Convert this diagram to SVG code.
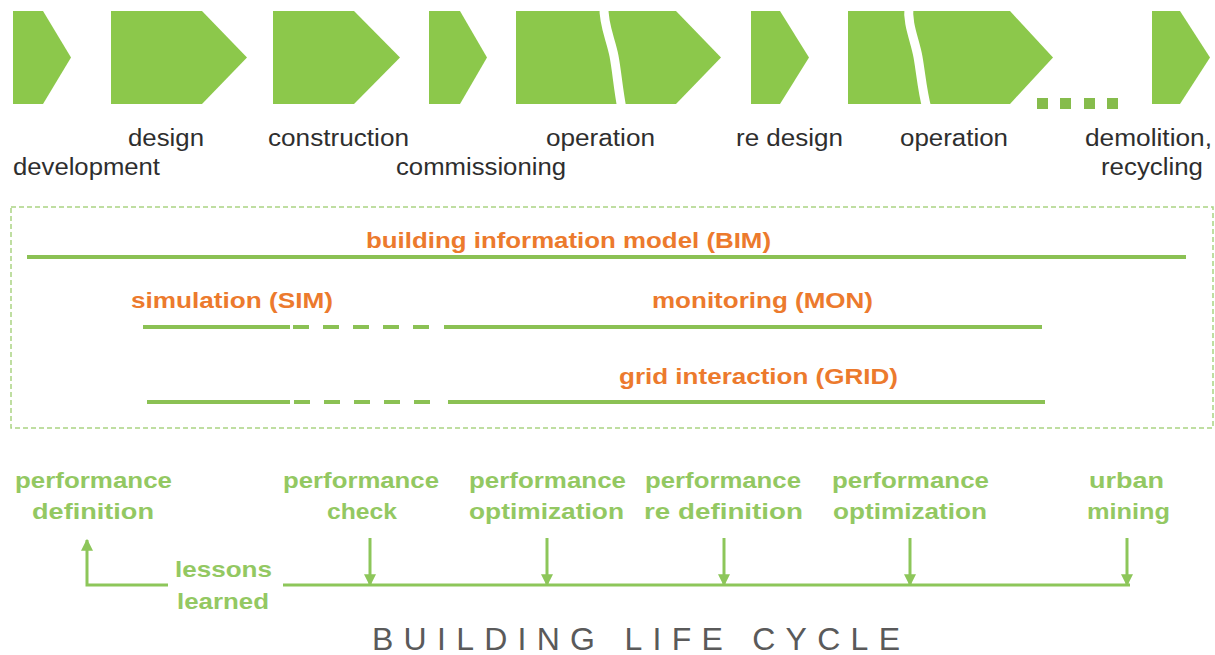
<svg xmlns="http://www.w3.org/2000/svg" width="1215" height="655" viewBox="0 0 1215 655">
  <style>
    .chev { fill: #8CC84B; }
    .crack { fill: none; stroke: #ffffff; stroke-width: 9; stroke-linecap: butt; }
    .dot { fill: #86BC4C; }
    .phase { font-family: "Liberation Sans", Arial, sans-serif; font-size: 23px; fill: #2e2e2e; }
    .tool { font-family: "Liberation Sans", Arial, sans-serif; font-size: 22px; font-weight: bold; fill: #EC7A2D; }
    .track { fill: none; stroke: #8BC154; stroke-width: 4; }
    .track-dash { fill: none; stroke: #8BC154; stroke-width: 4; stroke-dasharray: 16 14; }
    .frame { fill: none; stroke: #AAD483; stroke-width: 1.5; stroke-dasharray: 5 3; }
    .task { font-family: "Liberation Sans", Arial, sans-serif; font-size: 22px; font-weight: bold; fill: #93C862; }
    .flow { fill: none; stroke: #8DC65A; stroke-width: 3; }
    .title { font-family: "Liberation Sans", Arial, sans-serif; font-size: 32px; fill: #5a5a5a; }
  </style>
  <defs>
    <marker id="tip" viewBox="0 0 10 10" refX="9" refY="5" markerWidth="4" markerHeight="4" orient="auto" markerUnits="strokeWidth">
      <path d="M0,0 L10,5 L0,10 Z" fill="#8DC65A"/>
    </marker>
  </defs>

  <rect width="1215" height="655" fill="#ffffff"/>

  <!-- phase chevrons -->
  <g id="phase-development">
    <polygon class="chev" points="13,11 43,11 71,57.5 43,104 13,104"/>
    <text class="phase" x="13" y="175" textLength="147" lengthAdjust="spacingAndGlyphs">development</text>
  </g>
  <g id="phase-design">
    <polygon class="chev" points="111,11 202,11 247,57.5 202,104 111,104"/>
    <text class="phase" x="128" y="146" textLength="76" lengthAdjust="spacingAndGlyphs">design</text>
  </g>
  <g id="phase-construction">
    <polygon class="chev" points="273,11 354,11 400,57.5 354,104 273,104"/>
    <text class="phase" x="268" y="146" textLength="141" lengthAdjust="spacingAndGlyphs">construction</text>
  </g>
  <g id="phase-commissioning">
    <polygon class="chev" points="429,11 460,11 487,57.5 460,104 429,104"/>
    <text class="phase" x="396" y="175" textLength="170" lengthAdjust="spacingAndGlyphs">commissioning</text>
  </g>
  <g id="phase-operation-1">
    <polygon class="chev" points="516,11 676,11 721,57.5 676,104 516,104"/>
    <path class="crack" d="M604,6 C603,24 611,40 614,56 C617,72 618,88 622,109"/>
    <text class="phase" x="546" y="146" textLength="109" lengthAdjust="spacingAndGlyphs">operation</text>
  </g>
  <g id="phase-redesign">
    <polygon class="chev" points="751,11 780,11 809,57.5 780,104 751,104"/>
    <text class="phase" x="736" y="146" textLength="107" lengthAdjust="spacingAndGlyphs">re design</text>
  </g>
  <g id="phase-operation-2">
    <polygon class="chev" points="848,11 1010,11 1053,57.5 1010,104 848,104"/>
    <path class="crack" d="M909,6 C907,24 915,40 918,57 C921,74 922,90 927,109"/>
    <text class="phase" x="900" y="146" textLength="108" lengthAdjust="spacingAndGlyphs">operation</text>
  </g>
  <g id="phase-gap">
    <rect class="dot" x="1037" y="98" width="11" height="11"/>
    <rect class="dot" x="1060" y="98" width="11" height="11"/>
    <rect class="dot" x="1084" y="98" width="11" height="11"/>
    <rect class="dot" x="1107" y="98" width="11" height="11"/>
  </g>
  <g id="phase-demolition">
    <polygon class="chev" points="1152,11 1180,11 1210,57.5 1180,104 1152,104"/>
    <text class="phase" x="1085" y="146" textLength="127" lengthAdjust="spacingAndGlyphs">demolition,</text>
    <text class="phase" x="1101" y="175" textLength="102" lengthAdjust="spacingAndGlyphs">recycling</text>
  </g>

  <!-- tools spanning the life cycle -->
  <g id="tools">
    <rect class="frame" x="11" y="207" width="1202" height="221"/>
    <g id="tool-bim">
      <text class="tool" x="366" y="248" textLength="405" lengthAdjust="spacingAndGlyphs">building information model (BIM)</text>
      <line class="track" x1="27" y1="257" x2="1186" y2="257"/>
    </g>
    <g id="tool-sim-mon">
      <text class="tool" x="131" y="308" textLength="202" lengthAdjust="spacingAndGlyphs">simulation (SIM)</text>
      <text class="tool" x="652" y="308" textLength="221" lengthAdjust="spacingAndGlyphs">monitoring (MON)</text>
      <line class="track" x1="143" y1="327" x2="290" y2="327"/>
      <line class="track-dash" x1="293" y1="327" x2="429" y2="327"/>
      <line class="track" x1="444" y1="327" x2="1042" y2="327"/>
    </g>
    <g id="tool-grid">
      <text class="tool" x="619" y="384" textLength="279" lengthAdjust="spacingAndGlyphs">grid interaction (GRID)</text>
      <line class="track" x1="147" y1="402" x2="290" y2="402"/>
      <line class="track-dash" x1="294" y1="402" x2="432" y2="402"/>
      <line class="track" x1="448" y1="402" x2="1045" y2="402"/>
    </g>
  </g>

  <!-- performance tasks -->
  <g id="task-definition">
    <text class="task" x="15" y="488" textLength="157" lengthAdjust="spacingAndGlyphs">performance</text>
    <text class="task" x="32" y="519" textLength="122" lengthAdjust="spacingAndGlyphs">definition</text>
  </g>
  <g id="task-check">
    <text class="task" x="283" y="488" textLength="156" lengthAdjust="spacingAndGlyphs">performance</text>
    <text class="task" x="327" y="519" textLength="70" lengthAdjust="spacingAndGlyphs">check</text>
  </g>
  <g id="task-optimization-1">
    <text class="task" x="469" y="488" textLength="157" lengthAdjust="spacingAndGlyphs">performance</text>
    <text class="task" x="469" y="519" textLength="155" lengthAdjust="spacingAndGlyphs">optimization</text>
  </g>
  <g id="task-redefinition">
    <text class="task" x="645" y="488" textLength="156" lengthAdjust="spacingAndGlyphs">performance</text>
    <text class="task" x="644" y="519" textLength="159" lengthAdjust="spacingAndGlyphs">re definition</text>
  </g>
  <g id="task-optimization-2">
    <text class="task" x="832" y="488" textLength="157" lengthAdjust="spacingAndGlyphs">performance</text>
    <text class="task" x="833" y="519" textLength="154" lengthAdjust="spacingAndGlyphs">optimization</text>
  </g>
  <g id="task-urban-mining">
    <text class="task" x="1089" y="488" textLength="75" lengthAdjust="spacingAndGlyphs">urban</text>
    <text class="task" x="1087" y="519" textLength="83" lengthAdjust="spacingAndGlyphs">mining</text>
  </g>
  <g id="lessons-learned">
    <text class="task" x="175" y="577" textLength="97" lengthAdjust="spacingAndGlyphs">lessons</text>
    <text class="task" x="177" y="609" textLength="92" lengthAdjust="spacingAndGlyphs">learned</text>
  </g>

  <!-- feedback timeline and arrows -->
  <g id="connectors">
    <path class="flow" d="M168,585 H87 V540" marker-end="url(#tip)"/>
    <line class="flow" x1="283" y1="585" x2="1130" y2="585"/>
    <line class="flow" x1="370" y1="538" x2="370" y2="585" marker-end="url(#tip)"/>
    <line class="flow" x1="547" y1="538" x2="547" y2="585" marker-end="url(#tip)"/>
    <line class="flow" x1="724" y1="538" x2="724" y2="585" marker-end="url(#tip)"/>
    <line class="flow" x1="910" y1="538" x2="910" y2="585" marker-end="url(#tip)"/>
    <line class="flow" x1="1127" y1="538" x2="1127" y2="585" marker-end="url(#tip)"/>
  </g>

  <g id="caption">
    <text class="title" x="372" y="650" textLength="528" lengthAdjust="spacing">BUILDING LIFE CYCLE</text>
  </g>
</svg>
